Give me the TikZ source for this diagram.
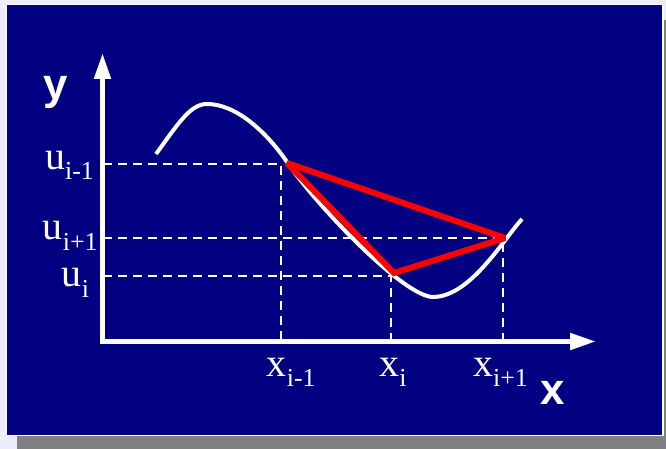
\documentclass[tikz,border=0pt]{standalone}
\usepackage{fontspec}
\setmainfont{Liberation Serif}
\newfontfamily\lsans{Liberation Sans}
\usetikzlibrary{arrows.meta}
\definecolor{navybg}{RGB}{0,0,128}
\definecolor{lav}{RGB}{236,236,252}
\definecolor{shadowgray}{RGB}{128,128,128}
\newcommand\mylab[2]{\fontsize{40}{40}\selectfont #1\raisebox{-10.5bp}{\fontsize{26}{26}\selectfont #2}}
\begin{document}
\begin{tikzpicture}[x=1bp,y=-1bp,
  guide/.style={white, line width=2bp, dash pattern=on 9bp off 6bp},
  axis/.style={white, line width=5bp, line join=miter,
    {Triangle[length=26bp,width=16bp]}-{Triangle[length=26bp,width=16bp]}},
  curve/.style={white, line width=4bp, line cap=butt},
  chord/.style={red, line width=6bp, line join=miter, miter limit=1.6},
  lab/.style={inner sep=0pt, anchor=base west, text=white}]
\useasboundingbox (0,0) rectangle (666,449);
\fill[lav] (0,0) rectangle (666,449);
\fill[shadowgray] (17,20) rectangle (670,453);
\draw[white, line width=1.6bp, fill=navybg] (6.5,4.5) rectangle (662.8,435.3);
% coordinates
\coordinate (O) at (102.5,341.5);
\coordinate (ytip) at (102.5,53);
\coordinate (xtip) at (596,341.5);
\coordinate (A) at (287,163);
\coordinate (B) at (394,273);
\coordinate (C) at (505,238);
\coordinate (g1) at (280.7,164);
\coordinate (g2) at (390.7,276);
\coordinate (g3) at (502.7,238.3);
% guides
\draw[guide] (O|-g1) -- (g1) -- (g1|-O);
\draw[guide] (O|-g3) -- (g3) -- (g3|-O);
\draw[guide] (O|-g2) -- (g2) -- (g2|-O);
% curve
\draw[curve] (156,154) .. controls (178,124) and (190,104) .. (207,104)
  .. controls (235,104) and (265,130) .. (287,162)
  .. controls (320,210) and (405,297) .. (433,297)
  .. controls (470,297) and (503,240) .. (522,219);
% chords
\draw[chord] (A) -- (B) -- (C) -- cycle;
% axes
\draw[axis] (ytip) -- (O) -- (xtip);
% labels
\node[lab] (ly) at (43,99.5) {\lsans\bfseries\fontsize{44}{44}\selectfont y};
\node[lab] (lx) at (540,404) {\lsans\bfseries\fontsize{44}{44}\selectfont x};
\node[lab] (u1) at (45,169.3) {\mylab{u}{i-1}};
\node[lab] (u3) at (42.7,240) {\mylab{u}{i+1}};
\node[lab] (u2) at (61.7,286.7) {\mylab{u}{i}};
\node[lab] (x1) at (266.7,376) {\mylab{x}{i-1}};
\node[lab] (x2) at (379.3,376) {\mylab{x}{i}};
\node[lab] (x3) at (473,376) {\mylab{x}{i+1}};
\end{tikzpicture}
\end{document}
